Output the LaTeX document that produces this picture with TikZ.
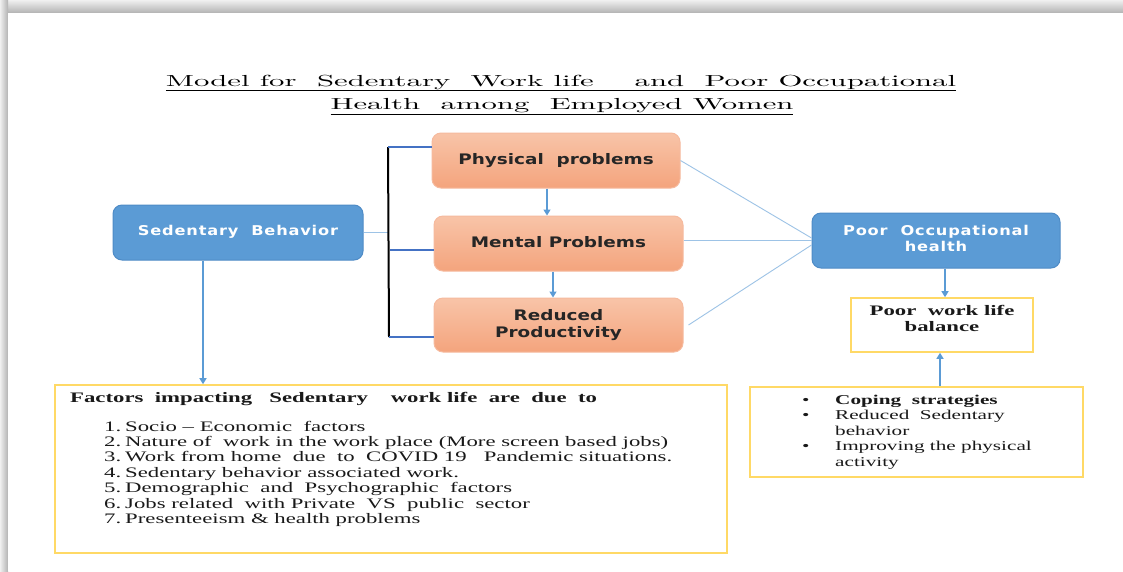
\documentclass[tikz,border=0pt]{standalone}
\usepackage{fontspec}
\setmainfont{Liberation Serif}
\newfontfamily\bodyfont{Liberation Serif}[FakeStretch=1.57]
\newfontfamily\blueboxfont{DejaVu Sans}[FakeStretch=1.2,LetterSpace=6]
\newfontfamily\orangeboxfont{DejaVu Sans}[FakeStretch=1.27]
\newfontfamily\titlefont{lmroman10-regular.otf}[FakeStretch=1.92]
\usetikzlibrary{arrows.meta}
\definecolor{boxblue}{HTML}{5B9BD5}
\definecolor{boxblueedge}{HTML}{4E8BC6}
\definecolor{orangetop}{HTML}{F8C4A8}
\definecolor{orangebot}{HTML}{F4A47D}
\definecolor{orangeedge}{HTML}{F6BA9E}
\definecolor{yboxc}{HTML}{FFD966}
\definecolor{linkblue}{HTML}{9DC3E6}
\definecolor{arrowblue}{HTML}{5B9BD5}
\definecolor{shortblue}{HTML}{4472C4}
\tikzset{
  bluebox/.style={draw=boxblueedge, fill=boxblue, rounded corners=9pt, line width=1pt,
    text=white, font=\blueboxfont\bfseries\fontsize{13.5}{16}\selectfont, align=center, inner sep=0pt},
  orangebox/.style={draw=orangeedge, top color=orangetop, bottom color=orangebot,
    rounded corners=9pt, line width=1pt, text=black!85,
    font=\orangeboxfont\bfseries\fontsize{14.5}{17}\selectfont, align=center, inner sep=0pt},
  yellowbox/.style={draw=yboxc, line width=1.6pt, inner sep=0pt},
  link/.style={draw=linkblue, line width=0.9pt},
  shortlink/.style={draw=shortblue, line width=1.8pt},
  bracketline/.style={draw=black, line width=2pt},
  arr/.style={draw=arrowblue, line width=1.3pt, -{Triangle[width=7pt,length=6pt]}},
  bodytext/.style={font=\bodyfont\fontsize{14.5}{15.4}\selectfont, inner sep=0pt, text=black!90},
  smalltext/.style={font=\bodyfont\fontsize{13.5}{15.5}\selectfont, inner sep=0pt, text=black!90},
  titletext/.style={font=\titlefont\fontsize{16}{20}\selectfont, anchor=base, inner sep=0pt},
}
\begin{document}
\begin{tikzpicture}[x=1pt,y=-1pt]
\useasboundingbox (0,0) rectangle (1123,571);
% page shadow
\fill[top color=gray!12, bottom color=gray!60] (0,0) rectangle (1123,13);
\fill[left color=gray!12, right color=gray!60] (0,0) rectangle (8,571);
\fill[white] (8,13) rectangle (1123,571);

% title
\node[titletext] (title1) at (561,86)
  {\underline{Model for\ \ Sedentary\ \ Work life\ \ \ \ and\ \ Poor Occupational}};
\node[titletext] (title2) at (562,109)
  {\underline{Health\ \ among\ \ Employed Women}};

% main boxes
\node[bluebox, minimum width=250pt, minimum height=55pt] (sb) at (238,232.5)
  {\raisebox{4pt}{Sedentary\ \ Behavior}};
\node[orangebox, minimum width=248pt, minimum height=55pt] (phys) at (556,160.5)
  {\raisebox{4pt}{Physical\ \ problems}};
\node[orangebox, minimum width=249pt, minimum height=55pt] (ment) at (558.5,243.5)
  {\raisebox{4pt}{Mental Problems}};
\node[orangebox, minimum width=249pt, minimum height=54pt] (red) at (558.5,325)
  {Reduced\\Productivity};
\node[bluebox, minimum width=248pt, minimum height=55pt] (poh) at (936,240.5)
  {\raisebox{4pt}{\begin{tabular}{@{}c@{}}Poor\ \ Occupational\\health\end{tabular}}};

% bracket
\coordinate (bt) at (388,147);
\coordinate (bm) at (390,250);
\coordinate (bb) at (389,337);
\draw[link] (sb.east) -- (sb.east -| bt);
\draw[bracketline] (bt) -- (bb);
\draw[shortlink] (bt) -- (bt -| phys.west);
\draw[shortlink] (bm) -- (bm -| ment.west);
\draw[shortlink] (bb) -- (bb -| red.west);

% arrows between orange boxes
\draw[arr] ([xshift=-9pt]phys.south) -- ([xshift=-9pt]phys.south |- ment.north);
\draw[arr] ([xshift=-5.5pt]ment.south) -- ([xshift=-5.5pt]ment.south |- red.north);

% links to poor occupational health
\draw[link] (phys.east) -- ([yshift=2.5pt]poh.west);
\draw[link] (ment.east |- poh.west) -- (poh.west);
\draw[link] ([xshift=5pt]red.east) -- ([yshift=-4.5pt]poh.west);

% poor work life balance
\node[yellowbox, minimum width=182pt, minimum height=54pt] (pwlb) at (942,325) {};
\node[bodytext, font=\bodyfont\bfseries\fontsize{14.5}{16}\selectfont, align=center, anchor=base] (pwlbtext) at (942,331)
  {Poor\ \ work life\\balance};
\draw[arr] ([xshift=9pt]poh.south) -- ([xshift=9pt]poh.south |- pwlb.north);

% coping box
\node[yellowbox, minimum width=333pt, minimum height=90pt] (cop) at (916.5,432) {};
\node[smalltext, anchor=base west] (coptext) at (802,404)
  {\begin{tabular}[t]{@{}p{33pt}@{}l@{}}
   \textbullet & \textbf{Coping\ \ strategies}\\
   \textbullet & Reduced\ \ Sedentary\\
               & behavior\\
   \textbullet & Improving the physical\\
               & activity
   \end{tabular}};
\draw[arr] ([xshift=23.5pt]cop.north) -- ([xshift=23.5pt]cop.north |- pwlb.south);

% factors box
\node[yellowbox, minimum width=672pt, minimum height=168pt] (fac) at (391,469) {};
\draw[arr] ([xshift=-35pt]sb.south) -- ([xshift=-35pt]sb.south |- fac.north);
\node[bodytext, font=\bodyfont\bfseries\fontsize{14.5}{15.4}\selectfont, anchor=base west] (fachead) at (70,402)
  {Factors\ \ impacting\ \ \ Sedentary\ \ \ \ work life\ \ are\ \ due\ \ to};
\foreach \i/\t [count=\k from 0] in {
  1/{Socio – Economic\ \ factors},
  2/{Nature of\ \ work in the work place (More screen based jobs)},
  3/{Work from home\ \ due\ \ to\ \ COVID 19\ \ \ Pandemic situations.},
  4/{Sedentary behavior associated work.},
  5/{Demographic\ \ and\ \ Psychographic\ \ factors},
  6/{Jobs related\ \ with Private\ \ VS\ \ public\ \ sector},
  7/{Presenteeism \& health problems}} {
  \node[bodytext, anchor=base west] (fac\i) at (104,431+15.4*\k)
    {\makebox[21pt][l]{\i.}\t};
}
\end{tikzpicture}
\end{document}
